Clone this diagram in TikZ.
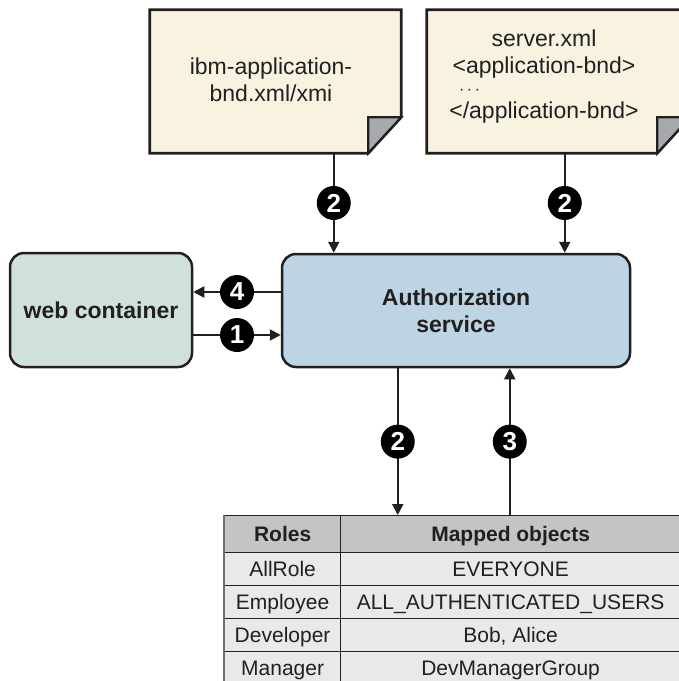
\documentclass[tikz,border=0pt]{standalone}
\usepackage{fontspec}
\setmainfont{Liberation Sans}
\usetikzlibrary{arrows.meta,calc}

\definecolor{ink}{RGB}{35,31,32}
\definecolor{docfill}{RGB}{248,242,225}
\definecolor{foldgray}{RGB}{167,169,172}
\definecolor{svcblue}{RGB}{188,212,227}
\definecolor{webgreen}{RGB}{207,225,216}
\definecolor{hdrgray}{RGB}{196,196,196}
\definecolor{rowgray}{RGB}{233,233,233}
\definecolor{edgegray}{RGB}{110,111,113}

\newcommand\DocFont{\fontsize{23}{27}\selectfont}
\newcommand\BoxFont{\fontsize{23}{27}\selectfont\bfseries}
\newcommand\TabFont{\fontsize{21}{24}\selectfont}
\newcommand\Dots{\fontsize{16}{16}\selectfont·\,·\,·}

\begin{document}
\begin{tikzpicture}[x=1pt,y=-1pt,
        every node/.style={text=ink},
        docshape/.style={minimum height=143pt,inner sep=0pt},
        docline/.style={draw=ink,fill=docfill,line width=2.8pt,line join=miter},
        foldline/.style={draw=ink,fill=foldgray,line width=2.2pt,line join=miter},
        doctext/.style={anchor=north,inner sep=0pt,align=center,font=\DocFont},
        svcbox/.style={draw=ink,line width=2.5pt,rounded corners=14pt,align=center,font=\BoxFont},
        arr/.style={draw=ink,line width=2pt,-{Triangle[length=11pt,width=11pt]}},
        badge/.style={circle,fill=black,text=white,minimum size=34pt,inner sep=0pt,font=\fontsize{26}{26}\selectfont\bfseries},
        hcell/.style={anchor=north west,draw=ink,line width=1.2pt,fill=hdrgray,minimum height=37pt,inner sep=0pt,text height=15pt,text depth=0pt,font=\TabFont\bfseries},
        rcell/.style={anchor=north west,draw=ink,line width=1.2pt,fill=rowgray,minimum height=33pt,inner sep=0pt,text height=15pt,text depth=0pt,font=\TabFont}]
        \useasboundingbox (0,0) rectangle (679,681);
        \clip (0,0) rectangle (679,681);

        \node[docshape,minimum width=251pt] (ibmdoc) at (275.5,81.5) {};
        \draw[docline] (ibmdoc.north west) -- (ibmdoc.north east) -- ($(ibmdoc.south east)+(0,-36)$) -- ($(ibmdoc.south east)+(-33,0)$) -- (ibmdoc.south west) -- cycle;
        \draw[foldline] ($(ibmdoc.south east)+(-33,0)$) -- ($(ibmdoc.south east)+(-33,-36)$) -- ($(ibmdoc.south east)+(0,-36)$) -- cycle;
        \node[doctext] (ibmtext) at (271,58) {ibm-application-\\bnd.xml/xmi};

        \node[docshape,minimum width=263pt] (srvdoc) at (558.5,81.5) {};
        \draw[docline] (srvdoc.north west) -- (srvdoc.north east) -- ($(srvdoc.south east)+(0,-36)$) -- ($(srvdoc.south east)+(-33,0)$) -- (srvdoc.south west) -- cycle;
        \draw[foldline] ($(srvdoc.south east)+(-33,0)$) -- ($(srvdoc.south east)+(-33,-36)$) -- ($(srvdoc.south east)+(0,-36)$) -- cycle;
        \node[doctext] (srvtext) at (544,30) {server.xml\\<application-bnd>\\[-6pt]\makebox[190pt][l]{\hspace{10pt}\Dots}\\[-3pt]</application-bnd>};

        \node[svcbox,fill=svcblue,minimum width=348pt,minimum height=113pt] (auth) at (456,310.5) {Authorization\\service};
        \node[svcbox,fill=webgreen,minimum width=182pt,minimum height=114pt] (web) at (101,310) {web container};

        \coordinate (in1) at ($(auth.north west)+(53,0)$);
        \coordinate (in2) at ($(auth.north west)+(284,0)$);
        \draw[arr] (ibmdoc.south -| in1) -- (in1) node[badge,midway] {2};
        \draw[arr] (srvdoc.south -| in2) -- (in2) node[badge,midway] {2};

        \coordinate (a4) at ($(auth.west)+(0,-18.5)$);
        \coordinate (a1) at ($(auth.west)+(0,24.5)$);
        \draw[arr] (a4) -- (a4 -| web.east) node[badge,midway] {4};
        \draw[arr] (a1 -| web.east) -- (a1) node[badge,midway] {1};

        \node[hcell,minimum width=116pt] (hroles) at (224,515) {Roles};
        \node[hcell,minimum width=340pt] (hobjects) at (340,515) {Mapped objects};
        \foreach \role/\objs [count=\i] in {AllRole/EVERYONE,Employee/ALL\_AUTHENTICATED\_USERS,{Developer/Bob, Alice},Manager/DevManagerGroup}
        {
                \node[rcell,minimum width=116pt] (role\i) at (224,{552+33*(\i-1)}) {\role};
                \node[rcell,minimum width=340pt] (objs\i) at (340,{552+33*(\i-1)}) {\objs};
        }
        \draw[edgegray,line width=2.5pt] (hroles.north west) -- (role4.south west);

        \coordinate (out1) at ($(auth.south west)+(117,0)$);
        \coordinate (out3) at ($(auth.south west)+(229,0)$);
        \draw[arr] (out1) -- (hobjects.north -| out1) node[badge,midway] {2};
        \draw[arr] (hobjects.north -| out3) -- (out3) node[badge,midway] {3};
\end{tikzpicture}
\end{document}
